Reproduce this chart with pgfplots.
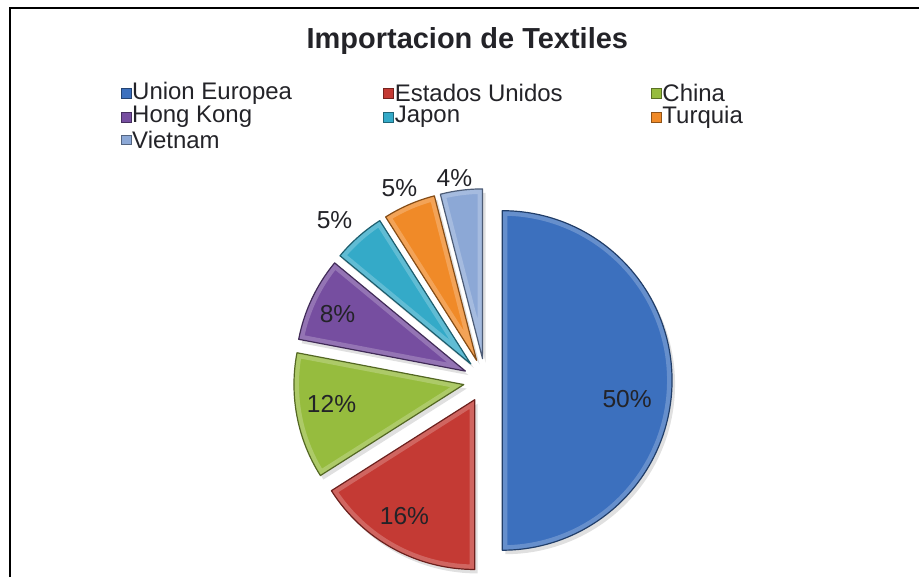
\documentclass[border=0pt]{standalone}
\usepackage{fontspec}
\setmainfont{Liberation Sans}
\usepackage{pgfplots}
\pgfplotsset{compat=1.18}

% slice colours
\definecolor{cUE}{RGB}{60,112,190}
\definecolor{cUS}{RGB}{196,58,52}
\definecolor{cCN}{RGB}{150,188,62}
\definecolor{cHK}{RGB}{118,78,160}
\definecolor{cJP}{RGB}{52,170,200}
\definecolor{cTR}{RGB}{240,138,40}
\definecolor{cVN}{RGB}{140,168,214}
\definecolor{txt}{RGB}{35,35,40}

\newcommand\lfont{\fontsize{12.3}{14}\selectfont}
\newcommand\gfont{\fontsize{12}{13}\selectfont}

\begin{document}
\begin{tikzpicture}
\begin{axis}[
    x=0.5pt, y=0.5pt,
    xmin=0, xmax=920, ymin=0, ymax=578,
    hide axis, clip=false,
]
\path (axis cs:0,0) rectangle (axis cs:920,578);

% frame
\draw[line width=1.3pt] (axis cs:10,0) -- (axis cs:10,570) -- (axis cs:920,570);

% title
\node[font=\fontsize{14.5}{16}\selectfont\bfseries, text=txt] at (axis cs:468,537) {Importacion de Textiles};

% pie: value / colour / explode / label x / label y
\def\angA{90}
\foreach \v/\col/\d/\lx/\ly in {
    50/cUE/17/628/178,
    16/cUS/22/405/61,
    12/cCN/22/332/173,
    8/cHK/22/338/264,
    5/cJP/22/335/358,
    5/cTR/22/400/390,
    4/cVN/22/455/400}{
  \pgfmathsetmacro\angB{\angA-3.6*\v}
  \pgfmathsetmacro\midang{(\angA+\angB)/2}
  \pgfmathsetmacro\ax{486+\d*cos(\midang)}
  \pgfmathsetmacro\ay{197+\d*sin(\midang)}
  \edef\temp{%
    % soft shadow
    \noexpand\fill[black, opacity=0.12]
      (axis cs:\ax+3,\ay-4) -- ++(\angA:85pt)
      arc[start angle=\angA, end angle=\angB, radius=85pt] -- cycle;
    \noexpand\begin{scope}
    \noexpand\clip (axis cs:\ax,\ay) -- ++(\angA:85pt)
      arc[start angle=\angA, end angle=\angB, radius=85pt] -- cycle;
    \noexpand\fill[\col] (axis cs:\ax,\ay) -- ++(\angA:85pt)
      arc[start angle=\angA, end angle=\angB, radius=85pt] -- cycle;
    \noexpand\draw[white, opacity=0.22, line width=5pt] (axis cs:\ax,\ay) -- ++(\angA:85pt)
      arc[start angle=\angA, end angle=\angB, radius=85pt] -- cycle;
    \noexpand\end{scope}
    \noexpand\draw[\col!55!black, line width=0.6pt, line join=round]
      (axis cs:\ax,\ay) -- ++(\angA:85pt)
      arc[start angle=\angA, end angle=\angB, radius=85pt] -- cycle;
    \noexpand\node[text=txt, font=\noexpand\lfont] at (axis cs:\lx,\ly) {\v\noexpand\%};
  }\temp
  \xdef\angA{\angB}
}

% legend
\foreach \nm/\col/\mx/\my in {
    Union Europea/cUE/126/485,
    Estados Unidos/cUS/389/485,
    China/cCN/657/485,
    Hong Kong/cHK/126/461,
    Japon/cJP/389/461,
    Turquia/cTR/657/461,
    Vietnam/cVN/126/438}{
  \edef\temp{%
    \noexpand\filldraw[fill=\col, draw=\col!60!black, line width=0.3pt]
      (axis cs:\mx,\my) ++(-2.5pt,-2.5pt) rectangle ++(5pt,5pt);
    \noexpand\node[anchor=west, inner sep=0pt, text=txt, font=\noexpand\gfont]
      at (axis cs:\mx+6,\my) {\nm};
  }\temp
}
\end{axis}
\end{tikzpicture}
\end{document}
